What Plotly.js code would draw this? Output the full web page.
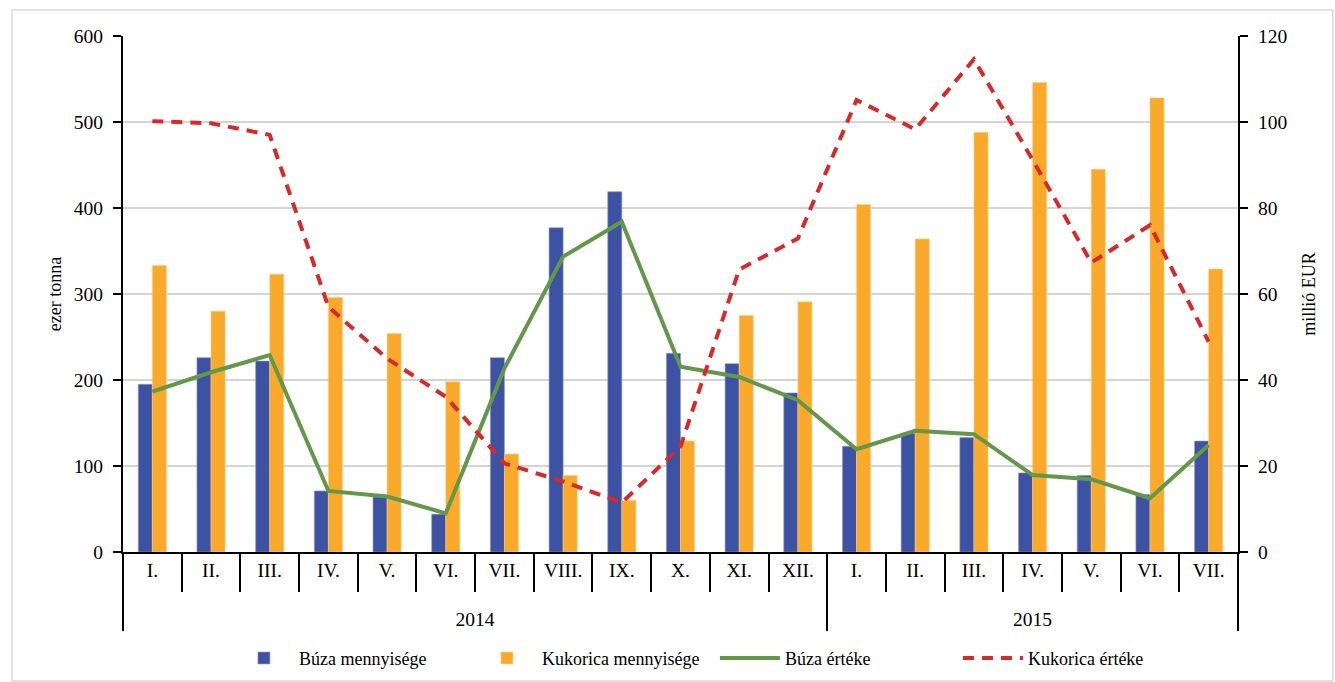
<!DOCTYPE html>
<html>
<head>
<meta charset="utf-8">
<script src="https://cdn.plot.ly/plotly-3.0.1.min.js"></script>
<style>html,body{margin:0;padding:0;background:#fff;}#chart{width:1335px;height:682px;}</style>
</head>
<body>
<div id="chart"></div>
<script>
const years = ["2014","2014","2014","2014","2014","2014","2014","2014","2014","2014","2014","2014","2015","2015","2015","2015","2015","2015","2015"];
const months = ["I.","II.","III.","IV.","V.","VI.","VII.","VIII.","IX.","X.","XI.","XII.","I.","II.","III.","IV.","V.","VI.","VII."];
const buzaMennyiseg = [195, 226, 222, 71, 64, 44, 226, 377, 419, 231, 219, 185, 123, 138, 133, 92, 89, 67, 129];
const kukoricaMennyiseg = [333, 280, 323, 296, 254, 198, 114, 89, 60, 129, 275, 291, 404, 364, 488, 546, 445, 528, 329];
const buzaErtek = [37.3, 41.8, 45.8, 14.2, 12.9, 9.0, 42.7, 68.7, 76.8, 43.1, 40.7, 35.3, 23.9, 28.2, 27.4, 17.9, 16.9, 12.5, 24.9];
const kukoricaErtek = [100.2, 99.7, 97.0, 57.0, 45.0, 36.1, 20.6, 16.4, 11.5, 24.5, 65.7, 72.9, 105.1, 98.3, 114.6, 91.2, 67.3, 76.0, 48.9];

// month labels get an empty second line so the year row sits lower, as in the original
const monthLabels = months.map(m => m + "<br>\u00a0");
const xcat = [years, monthLabels];
const FAM = "Liberation Serif, Times New Roman, serif";
const f = (s) => ({family: FAM, size: s, color: "#000"});

const traces = [
  {type: "bar", name: "Búza mennyisége", x: xcat, y: buzaMennyiseg, yaxis: "y",
   marker: {color: "#3E52A4", line: {color: "#8f9acb", width: 0.6}}},
  {type: "bar", name: "Kukorica mennyisége", x: xcat, y: kukoricaMennyiseg, yaxis: "y",
   marker: {color: "#F9AA2B", line: {color: "#fcd08f", width: 0.6}}},
  {type: "scatter", mode: "lines", name: "Búza értéke", x: xcat, y: buzaErtek, yaxis: "y2",
   line: {color: "#63974A", width: 4}},
  {type: "scatter", mode: "lines", name: "Kukorica értéke", x: xcat, y: kukoricaErtek, yaxis: "y2",
   line: {color: "#D7292A", width: 4, dash: "11px,8px"}}
];

const layout = {
  width: 1335, height: 682,
  margin: {l: 123, r: 97, t: 36, b: 130, autoexpand: false},
  paper_bgcolor: "#fff", plot_bgcolor: "#fff",
  font: f(18),
  barmode: "group", bargap: 0.52, bargroupgap: 0,
  showlegend: true,
  legend: {orientation: "h", x: 0.095, xanchor: "left", y: -0.206, yanchor: "middle",
           bgcolor: "rgba(0,0,0,0)",
           font: f(18), traceorder: "normal", itemwidth: 60, entrywidth: 168},
  xaxis: {type: "multicategory", showline: true, linecolor: "#000", linewidth: 2,
          ticks: "outside", tickson: "boundaries", ticklen: 38, tickwidth: 2, tickcolor: "#000",
          ticklabelstandoff: 0, automargin: false,
          showdividers: true, dividercolor: "#000", dividerwidth: 2,
          tickfont: f(19.5), showgrid: false, zeroline: false},
  yaxis: {range: [0, 600], dtick: 100, showline: true, linecolor: "#000", linewidth: 2,
          ticks: "outside", ticklen: 8, tickwidth: 1.5, tickcolor: "#000",
          ticklabelstandoff: 6,
          gridcolor: "#d4d4d4", gridwidth: 1.2, zeroline: false, automargin: false,
          tickfont: f(19.5),
          title: {text: "ezer tonna", font: f(18), standoff: 8}},
  yaxis2: {range: [0, 120], dtick: 20, overlaying: "y", side: "right", showline: true,
           linecolor: "#000", linewidth: 2, ticks: "outside", ticklen: 8, tickwidth: 1.5,
           ticklabelstandoff: 6,
           tickcolor: "#000", showgrid: false, zeroline: false, automargin: false,
           tickfont: f(19.5),
           title: {text: "millió EUR", font: f(18), standoff: 16}},
  shapes: [
    {type: "rect", xref: "paper", yref: "paper", x0: -0.0996, x1: 1.085, y0: -0.25, y1: 1.0504,
     line: {color: "#d9d9d9", width: 1.5}, fillcolor: "rgba(0,0,0,0)", layer: "below"}
  ]
};

Plotly.newPlot("chart", traces, layout, {displayModeBar: false, staticPlot: true});
</script>
</body>
</html>
